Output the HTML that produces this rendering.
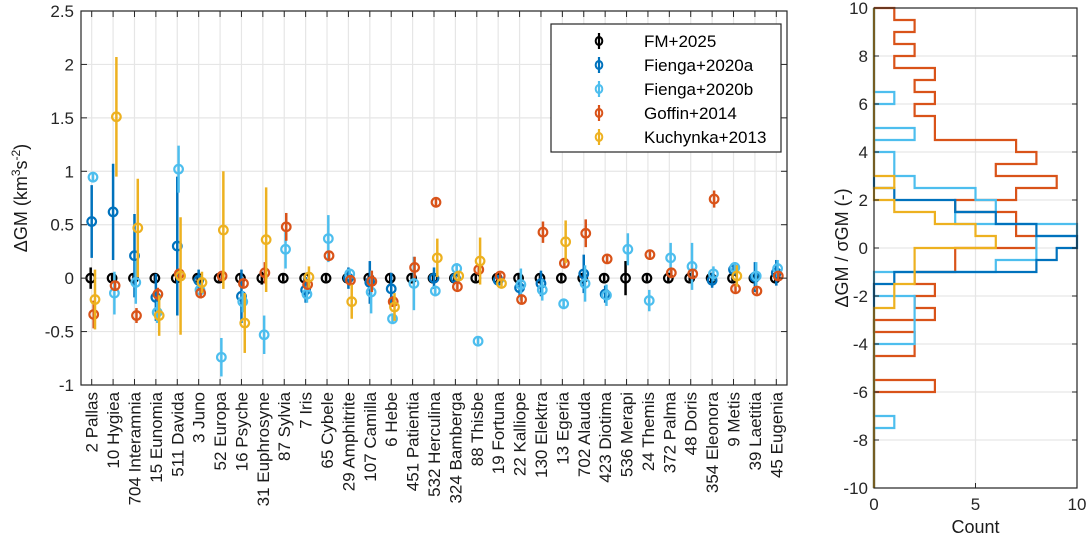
<!DOCTYPE html>
<html><head><meta charset="utf-8">
<style>
html,body{margin:0;padding:0;background:#fff;}
svg{display:block;font-family:"Liberation Sans",sans-serif;}
</style></head>
<body>
<svg id="chart" width="1087" height="539" viewBox="0 0 1087 539" xmlns="http://www.w3.org/2000/svg">
<g id="main"></g>
<g id="hist"></g>
</svg>
<script>
const categories = ["2 Pallas","10 Hygiea","704 Interamnia","15 Eunomia","511 Davida","3 Juno","52 Europa","16 Psyche","31 Euphrosyne","87 Sylvia","7 Iris","65 Cybele","29 Amphitrite","107 Camilla","6 Hebe","451 Patientia","532 Herculina","324 Bamberga","88 Thisbe","19 Fortuna","22 Kalliope","130 Elektra","13 Egeria","702 Alauda","423 Diotima","536 Merapi","24 Themis","372 Palma","48 Doris","354 Eleonora","9 Metis","39 Laetitia","45 Eugenia"];
const seriesNames = ["FM+2025","Fienga+2020a","Fienga+2020b","Goffin+2014","Kuchynka+2013"];
const seriesColors = ["#000000","#0072BD","#4DBEEE","#D95319","#EDB120"];
const fmVal = [0,0,0,0,0,0,0,0,0,0,0,0,0,0,0,0,0,0,0,0,0,0,0,0,0,0,0,0,0,0,0,0,0];
const fmErr = [0.1,0.03,0.03,0.03,0.03,0.03,0.03,0.03,0.06,0.03,0.03,0.03,0.03,0.03,0.03,0.03,0.03,0.03,0.03,0.03,0.03,0.03,0.03,0.03,0.03,0.16,0.03,0.05,0.03,0.03,0.03,0.03,0.03];
const f20aVal = [0.53,0.62,0.21,-0.18,0.30,-0.02,null,-0.17,null,null,-0.11,null,0,-0.04,-0.10,null,0,0,null,-0.02,-0.09,-0.05,null,0.04,-0.15,null,null,null,null,-0.02,0.08,0.01,0.05];
const f20aErr = [0.34,0.45,0.39,0.22,0.65,0.1,0,0.25,0,0,0.12,0,0.1,0.2,0.15,0,0.1,0.05,0,0.05,0.08,0.12,0,0.18,0.08,0,0,0,0,0.07,0.05,0.14,0.12];
const f20bVal = [0.945,-0.14,-0.04,-0.32,1.02,-0.11,-0.74,-0.22,-0.53,0.27,-0.15,0.37,0.04,-0.13,-0.38,-0.05,-0.12,0.09,-0.59,null,-0.06,-0.11,-0.24,-0.05,-0.16,0.27,-0.21,0.19,0.11,0.04,0.10,0.02,0.09];
const f20bErr = [0.05,0.2,0.2,0.1,0.22,0.05,0.18,0.1,0.18,0.18,0.08,0.22,0.05,0.2,0.05,0.25,0.05,0.05,0.02,0,0.15,0.1,0.05,0.17,0.1,0.15,0.1,0.14,0.22,0.07,0.05,0.13,0.08];
const gofVal = [-0.34,-0.07,-0.35,-0.15,0.04,-0.14,0.02,-0.05,0.05,0.48,-0.06,0.21,-0.02,-0.03,-0.22,0.10,0.71,-0.08,0.08,0.02,-0.20,0.43,0.14,0.42,0.18,null,0.22,0.05,0.04,0.74,-0.10,-0.12,0.02];
const gofErr = [0.13,0.04,0.07,0.06,0.05,0.05,0.03,0.03,0.1,0.13,0.03,0.04,0.03,0.1,0.05,0.1,0.05,0.03,0.03,0.03,0.04,0.1,0.04,0.13,0.04,0,0.03,0.03,0.03,0.08,0.03,0.03,0.03];
const kucVal = [-0.2,1.51,0.47,-0.35,0.02,-0.04,0.45,-0.42,0.36,null,0.01,null,-0.22,null,-0.27,null,0.19,0.02,0.16,-0.05,null,null,0.34,null,null,null,null,null,null,null,0.02,null,null];
const kucErr = [0.28,0.56,0.46,0.19,0.55,0.1,0.55,0.28,0.49,0,0.1,0,0.16,0,0.13,0,0.18,0.04,0.22,0.03,0,0,0.2,0,0,0,0,0,0,0,0.1,0,0];
const yTicks = [-1,-0.5,0,0.5,1,1.5,2,2.5];
const yTickLabels = ["-1","-0.5","0","0.5","1","1.5","2","2.5"];

// histogram data: 40 bins of 0.5 from -10 to 10 (index 0 = [-10,-9.5])
const binEdgesStart = -10, binWidth = 0.5;
const hGoffin = [0,0,0,0,0,0,0,0,3,0,0,2,2,0,3,2,3,2,4,4,8,7,7,4,7,9,6,8,7,3,3,2,3,2,3,1,2,1,2,1];
const hF20b   = [0,0,0,0,0,1,0,0,0,0,0,0,2,2,2,2,0,0,6,8,8,10,4,6,5,2,1,1,0,2,0,0,1,0,0,0,0,0,0,0];
const hF20a   = [0,0,0,0,0,0,0,0,0,0,0,0,0,0,0,0,0,1,8,9,10,8,6,4,1,0,0,0,0,0,0,0,0,0,0,0,0,0,0,0];
const hKuc    = [0,0,0,0,0,0,0,0,0,0,0,0,0,0,0,1,1,2,2,2,6,5,3,1,0,1,0,0,0,0,0,0,0,0,0,0,0,0,0,0];
const histTicksY = [-10,-8,-6,-4,-2,0,2,4,6,8,10];
const histTicksX = [0,5,10];

const NS="http://www.w3.org/2000/svg";
function mk(tag, attrs, parent){const e=document.createElementNS(NS,tag);for(const k in attrs)e.setAttribute(k,attrs[k]);parent.appendChild(e);return e;}

// ---- main panel
const main=document.getElementById('main');
const L=81,R=787,T=11,B=385;
const xs=i=>L+(i+0.5)*(R-L)/categories.length;
const ys=v=>B-(v+1)*(B-T)/3.5;
yTicks.forEach((t,i)=>{
  const g=mk('line',{x1:L,x2:R,y1:ys(t),y2:ys(t),stroke:'#e6e6e6','stroke-width':1.2},main);
  
  
});
categories.forEach((c,i)=>{
  const g=mk('line',{x1:xs(i),x2:xs(i),y1:T,y2:B,stroke:'#e6e6e6','stroke-width':1.2},main);
  
  
});
const vals=[fmVal,f20aVal,f20bVal,gofVal,kucVal];
const errs=[fmErr,f20aErr,f20bErr,gofErr,kucErr];
const offs=[-1,0,1.3,2,3.3];
vals.forEach((arr,s)=>{
  const g=mk('g',{},main);
  
  
  arr.forEach((v,i)=>{
    if(v===null)return;
    const x=xs(i)+offs[s], e=Math.max(errs[s][i],0.03);
    const ln=mk('line',{x1:x,x2:x,y1:ys(v+e),y2:ys(v-e),stroke:seriesColors[s],'stroke-width':2.5},g);
    
    
    const c=mk('circle',{cx:x,cy:ys(v),r:4.3,fill:'none',stroke:seriesColors[s],'stroke-width':2.2},g);
    
    
  });
});
const fr=mk('rect',{x:L,y:T,width:R-L,height:B-T,fill:'none',stroke:'#262626','stroke-width':1.2},main);


yTicks.forEach((t,i)=>{
  mk('line',{x1:L,x2:L+6,y1:ys(t),y2:ys(t),stroke:'#262626'},main);
  mk('line',{x1:R,x2:R-6,y1:ys(t),y2:ys(t),stroke:'#262626'},main);
  const tx=mk('text',{x:L-7,y:ys(t)+6,'text-anchor':'end','font-size':17,fill:'#262626'},main);
  tx.textContent=yTickLabels[i];
  
  
});
categories.forEach((c,i)=>{
  mk('line',{x1:xs(i),x2:xs(i),y1:B,y2:B-6,stroke:'#262626'},main);
  mk('line',{x1:xs(i),x2:xs(i),y1:T,y2:T+6,stroke:'#262626'},main);
  const tx=mk('text',{x:0,y:0,'text-anchor':'end','font-size':17,fill:'#1a1a1a',transform:`translate(${xs(i)+6},392) rotate(-90)`},main);
  tx.textContent=c;
  
  
});
const yl=mk('text',{x:0,y:0,'text-anchor':'middle','font-size':18,fill:'#1a1a1a',transform:'translate(27,198) rotate(-90)'},main);
yl.innerHTML='ΔGM (km<tspan dy="-7" font-size="12">3</tspan><tspan dy="7">s</tspan><tspan dy="-7" font-size="12">-2</tspan><tspan dy="7">)</tspan>';


const lg=mk('g',{},main);


mk('rect',{x:551,y:24,width:230,height:128,fill:'#fff',stroke:'#262626','stroke-width':1.2},lg);
seriesNames.forEach((n,s)=>{
  const y=41+s*24;
  const e=mk('g',{},lg);
  
  
  mk('line',{x1:599,x2:599,y1:y-8,y2:y+8,stroke:seriesColors[s],'stroke-width':2.2},e);
  mk('ellipse',{cx:599,cy:y,rx:3.3,ry:4,fill:'none',stroke:seriesColors[s],'stroke-width':2},e);
  const t=mk('text',{x:644,y:y+6,'font-size':17,fill:'#000'},e);
  t.textContent=n;
});

// ---- histogram
const hist=document.getElementById('hist');
const HL=874,HR=1077,HT=8,HB=488;
const hx=c=>HL+c*(HR-HL)/10;
const hy=v=>HB-(v+10)*(HB-HT)/20;
histTicksY.forEach(t=>{
  const g=mk('line',{x1:HL,x2:HR,y1:hy(t),y2:hy(t),stroke:'#e6e6e6','stroke-width':1.2},hist);
  
  
});
histTicksX.forEach(t=>{
  const g=mk('line',{x1:hx(t),x2:hx(t),y1:HT,y2:HB,stroke:'#e6e6e6','stroke-width':1.2},hist);
  
  
});
function stairs(counts,color,name){
  let d='';
  counts.forEach((c,i)=>{
    const y0=hy(binEdgesStart+i*binWidth), y1=hy(binEdgesStart+(i+1)*binWidth);
    d+=(i===0?`M${hx(0)},${y0}`:'')+`L${hx(c)},${y0}L${hx(c)},${y1}`;
  });
  d+=`L${hx(0)},${hy(binEdgesStart+counts.length*binWidth)}`;
  const p=mk('path',{d:d,fill:'none',stroke:color,'stroke-width':2.2},hist);
  
  
}
stairs(hGoffin,'#D95319','hist-goffin-2014');
stairs(hF20b,'#4DBEEE','hist-fienga-2020b');
stairs(hF20a,'#0072BD','hist-fienga-2020a');
stairs(hKuc,'#EDB120','hist-kuchynka-2013');
const hf=mk('rect',{x:HL,y:HT,width:HR-HL,height:HB-HT,fill:'none',stroke:'#262626','stroke-width':1.2},hist);


histTicksY.forEach(t=>{
  mk('line',{x1:HL,x2:HL+5,y1:hy(t),y2:hy(t),stroke:'#262626'},hist);
  mk('line',{x1:HR,x2:HR-5,y1:hy(t),y2:hy(t),stroke:'#262626'},hist);
  const tx=mk('text',{x:HL-6,y:hy(t)+6,'text-anchor':'end','font-size':17,fill:'#262626'},hist);
  tx.textContent=String(t);
  
  
});
histTicksX.forEach(t=>{
  mk('line',{x1:hx(t),x2:hx(t),y1:HB,y2:HB-5,stroke:'#262626'},hist);
  const tx=mk('text',{x:hx(t),y:HB+22,'text-anchor':'middle','font-size':17,fill:'#262626'},hist);
  tx.textContent=String(t);
  
  
});
const hxl=mk('text',{x:(HL+HR)/2,y:533,'text-anchor':'middle','font-size':18,fill:'#1a1a1a'},hist);
hxl.textContent='Count';


const hyl=mk('text',{x:0,y:0,'text-anchor':'middle','font-size':18,fill:'#1a1a1a',transform:'translate(848,248) rotate(-90)'},hist);
hyl.textContent='ΔGM / σGM (-)';


</script>
</body></html>
